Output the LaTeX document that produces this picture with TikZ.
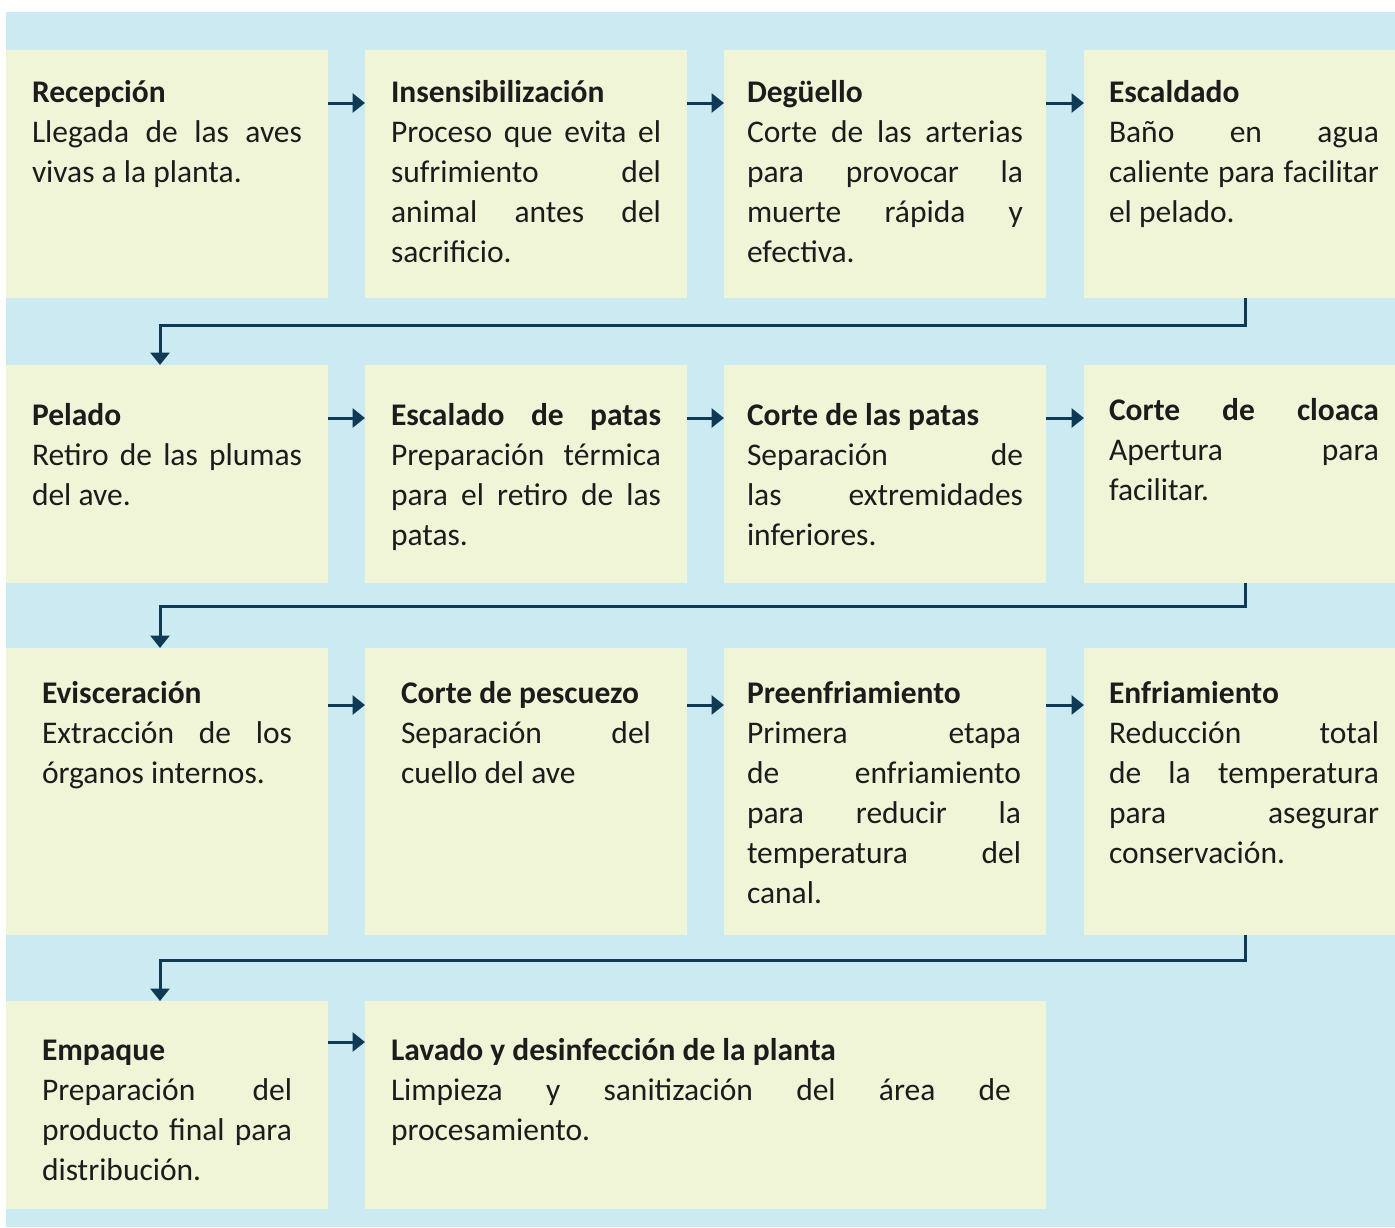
\documentclass[tikz,border=0pt]{standalone}
\usepackage{fontspec}
\setmainfont{Carlito}
\usetikzlibrary{arrows.meta,calc}
\definecolor{bgblue}{RGB}{204,234,242}
\definecolor{cream}{RGB}{240,245,216}
\definecolor{navy}{RGB}{14,58,86}
\definecolor{txt}{RGB}{30,27,28}
\newcommand{\stxt}[2]{\parbox[t]{#1pt}{\fontsize{31.5}{40}\selectfont\hyphenpenalty=10000\tolerance=10000\hbadness=10000\relax #2}}
\begin{document}
\begin{tikzpicture}[x=1pt,y=-1pt,
  box/.style={fill=cream, draw=none, inner sep=0pt, outer sep=0pt, anchor=north west},
  lbl/.style={anchor=base west, inner sep=0pt, outer sep=0pt, text=txt},
  arr/.style={draw=navy, line width=3pt, -{Triangle[length=12.5pt,width=19pt]}}]
\fill[white] (0,0) rectangle (1395,1227);
\useasboundingbox (0,0) rectangle (1395,1227);
\fill[bgblue] (6,12) rectangle (1395,1227);
% row 1
\node[box, minimum width=322pt, minimum height=248pt] (b1) at (6,50) {};
\node[box, minimum width=322pt, minimum height=248pt] (b2) at (365,50) {};
\node[box, minimum width=322pt, minimum height=248pt] (b3) at (724,50) {};
\node[box, minimum width=311pt, minimum height=248pt] (b4) at (1084,50) {};
% row 2
\node[box, minimum width=322pt, minimum height=218pt] (b5) at (6,365) {};
\node[box, minimum width=322pt, minimum height=218pt] (b6) at (365,365) {};
\node[box, minimum width=322pt, minimum height=218pt] (b7) at (724,365) {};
\node[box, minimum width=311pt, minimum height=218pt] (b8) at (1084,365) {};
% row 3
\node[box, minimum width=322pt, minimum height=287pt] (b9) at (6,648) {};
\node[box, minimum width=322pt, minimum height=287pt] (b10) at (365,648) {};
\node[box, minimum width=322pt, minimum height=287pt] (b11) at (724,648) {};
\node[box, minimum width=311pt, minimum height=287pt] (b12) at (1084,648) {};
% row 4
\node[box, minimum width=322pt, minimum height=208pt] (b13) at (6,1001) {};
\node[box, minimum width=681pt, minimum height=208pt] (b14) at (365,1001) {};
% texts
\node[lbl] (t1) at (32,102) {\stxt{270}{\textbf{Recepción}\\Llegada de las aves\linebreak vivas a la planta.}};
\node[lbl] (t2) at (391,102) {\stxt{270}{\textbf{Insensibilización}\\Proceso que evita el\linebreak sufrimiento del\linebreak animal antes del\linebreak sacrificio.}};
\node[lbl] (t3) at (747,102) {\stxt{276}{\textbf{Degüello}\\Corte de las arterias\linebreak para provocar la\linebreak muerte rápida y\linebreak efectiva.}};
\node[lbl] (t4) at (1109,102) {\stxt{270}{\textbf{Escaldado}\\Baño en agua\linebreak caliente para facilitar\linebreak el pelado.}};
\node[lbl] (t5) at (32,425) {\stxt{270}{\textbf{Pelado}\\Retiro de las plumas\linebreak del ave.}};
\node[lbl] (t6) at (391,425) {\stxt{270}{\textbf{Escalado de patas}\linebreak Preparación térmica\linebreak para el retiro de las\linebreak patas.}};
\node[lbl] (t7) at (747,425) {\stxt{276}{\textbf{Corte de las patas}\\Separación de\linebreak las extremidades\linebreak inferiores.}};
\node[lbl] (t8) at (1109,420) {\stxt{270}{\textbf{Corte de cloaca}\linebreak Apertura para\linebreak facilitar.}};
\node[lbl] (t9) at (42,703) {\stxt{250}{\textbf{Evisceración}\\Extracción de los\linebreak órganos internos.}};
\node[lbl] (t10) at (401,703) {\stxt{250}{\textbf{Corte de pescuezo}\\Separación del\linebreak cuello del ave}};
\node[lbl] (t11) at (747,703) {\stxt{274}{\textbf{Preenfriamiento}\\Primera etapa\linebreak de enfriamiento\linebreak para reducir la\linebreak temperatura del\linebreak canal.}};
\node[lbl] (t12) at (1109,703) {\stxt{270}{\textbf{Enfriamiento}\\Reducción total\linebreak de la temperatura\linebreak para asegurar\linebreak conservación.}};
\node[lbl] (t13) at (42,1060) {\stxt{250}{\textbf{Empaque}\\Preparación del\linebreak producto final para\linebreak distribución.}};
\node[lbl] (t14) at (391,1060) {\stxt{620}{\textbf{Lavado y desinfección de la planta}\\Limpieza y sanitización del área de\linebreak procesamiento.}};
% horizontal arrows
\draw[arr] ($(b1.north east)+(0,53)$) -- ($(b2.north west)+(0,53)$);
\draw[arr] ($(b2.north east)+(0,53)$) -- ($(b3.north west)+(0,53)$);
\draw[arr] ($(b3.north east)+(0,53)$) -- ($(b4.north west)+(0,53)$);
\draw[arr] ($(b5.north east)+(0,53)$) -- ($(b6.north west)+(0,53)$);
\draw[arr] ($(b6.north east)+(0,53)$) -- ($(b7.north west)+(0,53)$);
\draw[arr] ($(b7.north east)+(0,53)$) -- ($(b8.north west)+(0,53)$);
\draw[arr] ($(b9.north east)+(0,57)$) -- ($(b10.north west)+(0,57)$);
\draw[arr] ($(b10.north east)+(0,57)$) -- ($(b11.north west)+(0,57)$);
\draw[arr] ($(b11.north east)+(0,57)$) -- ($(b12.north west)+(0,57)$);
\draw[arr] ($(b13.north east)+(0,41)$) -- ($(b14.north west)+(0,41)$);
% elbow connectors
\draw[arr] ($(b4.south west)+(161,0)$) |- ($(b5.north west)+(154,-40)$) -- ($(b5.north west)+(154,0)$);
\draw[arr] ($(b8.south west)+(161,0)$) |- ($(b9.north west)+(154,-42)$) -- ($(b9.north west)+(154,0)$);
\draw[arr] ($(b12.south west)+(161,0)$) |- ($(b13.north west)+(154,-41)$) -- ($(b13.north west)+(154,0)$);
\end{tikzpicture}
\end{document}
